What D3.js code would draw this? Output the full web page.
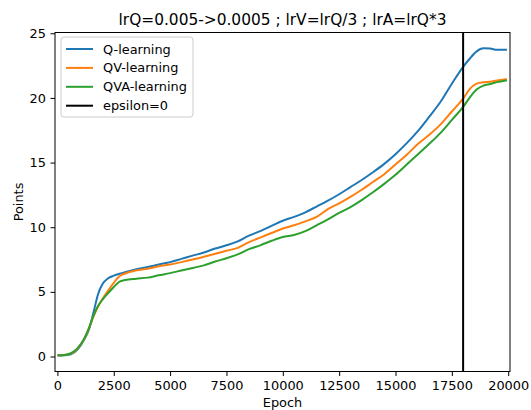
<!DOCTYPE html>
<html>
<head>
<meta charset="utf-8">
<script src="https://cdn.jsdelivr.net/npm/d3@7"></script>
<style>
  html, body { margin: 0; padding: 0; background: #fff; }
  svg { display: block; font-family: "DejaVu Sans", sans-serif; }
</style>
</head>
<body>
<svg id="chart" width="531" height="410"></svg>
<script>
// Training epochs at which the smoothed scores were sampled
const epochs = [50, 300, 600, 900, 1200, 1400, 1600, 1800, 2000, 2250, 2500, 2750, 3000,
  3500, 4000, 4500, 5000, 5500, 6000, 6500, 7000, 7500, 8000, 8500, 9000, 9500, 10000,
  10500, 11000, 11500, 12000, 12500, 13000, 13500, 14000, 14500, 15000, 15500, 16000,
  16500, 17000, 17500, 18000, 18300, 18600, 18900, 19200, 19500, 19900];

const qLearning = [0.08, 0.1, 0.18, 0.55, 1.35, 2.1, 3.4, 4.8, 5.6, 6.05, 6.25, 6.4, 6.52,
  6.75, 6.92, 7.12, 7.3, 7.55, 7.8, 8.05, 8.35, 8.6, 8.9, 9.35, 9.7, 10.1, 10.5,
  10.8, 11.15, 11.6, 12.05, 12.55, 13.1, 13.65, 14.25, 14.9, 15.65, 16.5, 17.45,
  18.55, 19.7, 21.1, 22.4, 23.05, 23.6, 23.84, 23.82, 23.72, 23.72];

const qvLearning = [0.1, 0.12, 0.22, 0.62, 1.4, 2.2, 3.1, 3.85, 4.45, 5.1, 5.7, 6.2, 6.42,
  6.66, 6.78, 6.98, 7.12, 7.3, 7.5, 7.72, 7.95, 8.18, 8.4, 8.85, 9.2, 9.55, 9.9,
  10.15, 10.45, 10.8, 11.4, 11.85, 12.35, 12.9, 13.5, 14.1, 14.85, 15.6, 16.45,
  17.15, 17.95, 18.95, 19.95, 20.7, 21.1, 21.22, 21.25, 21.35, 21.44];

const qvaLearning = [0.1, 0.12, 0.25, 0.65, 1.42, 2.2, 3.15, 3.9, 4.4, 4.9, 5.38, 5.78, 5.92,
  6.02, 6.1, 6.28, 6.45, 6.65, 6.85, 7.05, 7.35, 7.6, 7.9, 8.3, 8.6, 8.95, 9.25,
  9.4, 9.7, 10.15, 10.6, 11.1, 11.55, 12.1, 12.7, 13.35, 14.05, 14.85, 15.65,
  16.45, 17.3, 18.3, 19.3, 20.05, 20.65, 20.95, 21.08, 21.22, 21.35];

const seriesNames = ["Q-learning", "QV-learning", "QVA-learning"];
const seriesColors = ["#1f77b4", "#ff7f0e", "#2ca02c"];
const epsilonZeroEpoch = 18000;

const xTicks = [0, 2500, 5000, 7500, 10000, 12500, 15000, 17500, 20000];
const yTicks = [0, 5, 10, 15, 20, 25];

const titleText = "lrQ=0.005->0.0005 ; lrV=lrQ/3 ; lrA=lrQ*3";

const svg = d3.select("#chart");
const plot = { left: 55, right: 510, top: 32.5, bottom: 371.5 };
const fontSize = "12.9px";

const x = d3.scaleLinear().domain([-107, 20080]).range([plot.left, plot.right]);
const y = d3.scaleLinear().domain([-1.16, 25.06]).range([plot.bottom, plot.top]);

// Curves
const allSeries = [qLearning, qvLearning, qvaLearning];
const line = d3.line()
  .x((d, i) => x(epochs[i]))
  .y(d => y(d))
  .curve(d3.curveMonotoneX);

const curves = svg.append("g");
allSeries.forEach((vals, k) => {
  curves.append("path")
    .datum(vals)
    .attr("d", line)
    .attr("fill", "none")
    .attr("stroke", seriesColors[k])
    .attr("stroke-width", 2)
    .attr("stroke-linejoin", "round")
    .attr("stroke-linecap", "square");
});

// Vertical marker where exploration stops
svg.append("line")
  .attr("x1", x(epsilonZeroEpoch)).attr("x2", x(epsilonZeroEpoch))
  .attr("y1", plot.top).attr("y2", plot.bottom)
  .attr("stroke", "#000").attr("stroke-width", 2);

// Axes
const xAxis = d3.axisBottom(x).tickValues(xTicks).tickSize(4.5).tickPadding(4.5).tickFormat(d3.format("d"));
const yAxis = d3.axisLeft(y).tickValues(yTicks).tickSize(4.5).tickPadding(4.5).tickFormat(d3.format("d"));

const gx = svg.append("g").attr("transform", `translate(0,${plot.bottom})`).call(xAxis);
const gy = svg.append("g").attr("transform", `translate(${plot.left},0)`).call(yAxis);
[gx, gy].forEach(g => {
  g.select(".domain").remove();
  g.selectAll(".tick line").attr("stroke", "#000").attr("stroke-width", 1);
  g.selectAll(".tick text").attr("fill", "#000").attr("font-size", fontSize)
    .attr("font-family", "DejaVu Sans, sans-serif");
});

// Frame
svg.append("rect")
  .attr("x", plot.left).attr("y", plot.top)
  .attr("width", plot.right - plot.left).attr("height", plot.bottom - plot.top)
  .attr("fill", "none").attr("stroke", "#000").attr("stroke-width", 1);

// Title and axis labels
svg.append("text")
  .attr("x", (plot.left + plot.right) / 2).attr("y", 25)
  .attr("text-anchor", "middle").attr("font-size", "15.4px").attr("fill", "#000")
  .text(titleText);

svg.append("text")
  .attr("x", (plot.left + plot.right) / 2).attr("y", 406.5)
  .attr("text-anchor", "middle").attr("font-size", fontSize).attr("fill", "#000")
  .text("Epoch");

svg.append("text")
  .attr("transform", `translate(22.5,${(plot.top + plot.bottom) / 2}) rotate(-90)`)
  .attr("text-anchor", "middle").attr("font-size", fontSize).attr("fill", "#000")
  .text("Points");

// Legend
const legend = svg.append("g").attr("transform", "translate(61,37)");
legend.append("rect")
  .attr("x", 0).attr("y", 0).attr("width", 132).attr("height", 80)
  .attr("rx", 3).attr("ry", 3)
  .attr("fill", "#fff").attr("fill-opacity", 0.8)
  .attr("stroke", "#cccccc").attr("stroke-width", 1);

const legendItems = seriesNames.map((n, i) => ({ name: n, color: seriesColors[i] }))
  .concat([{ name: "epsilon=0", color: "#000" }]);

legendItems.forEach((it, i) => {
  const cy = 12 + i * 18.9;
  legend.append("line")
    .attr("x1", 5).attr("x2", 32).attr("y1", cy).attr("y2", cy)
    .attr("stroke", it.color).attr("stroke-width", 2);
  legend.append("text")
    .attr("x", 42).attr("y", cy).attr("dy", "0.35em")
    .attr("font-size", fontSize).attr("fill", "#000")
    .text(it.name);
});
</script>
</body>
</html>
